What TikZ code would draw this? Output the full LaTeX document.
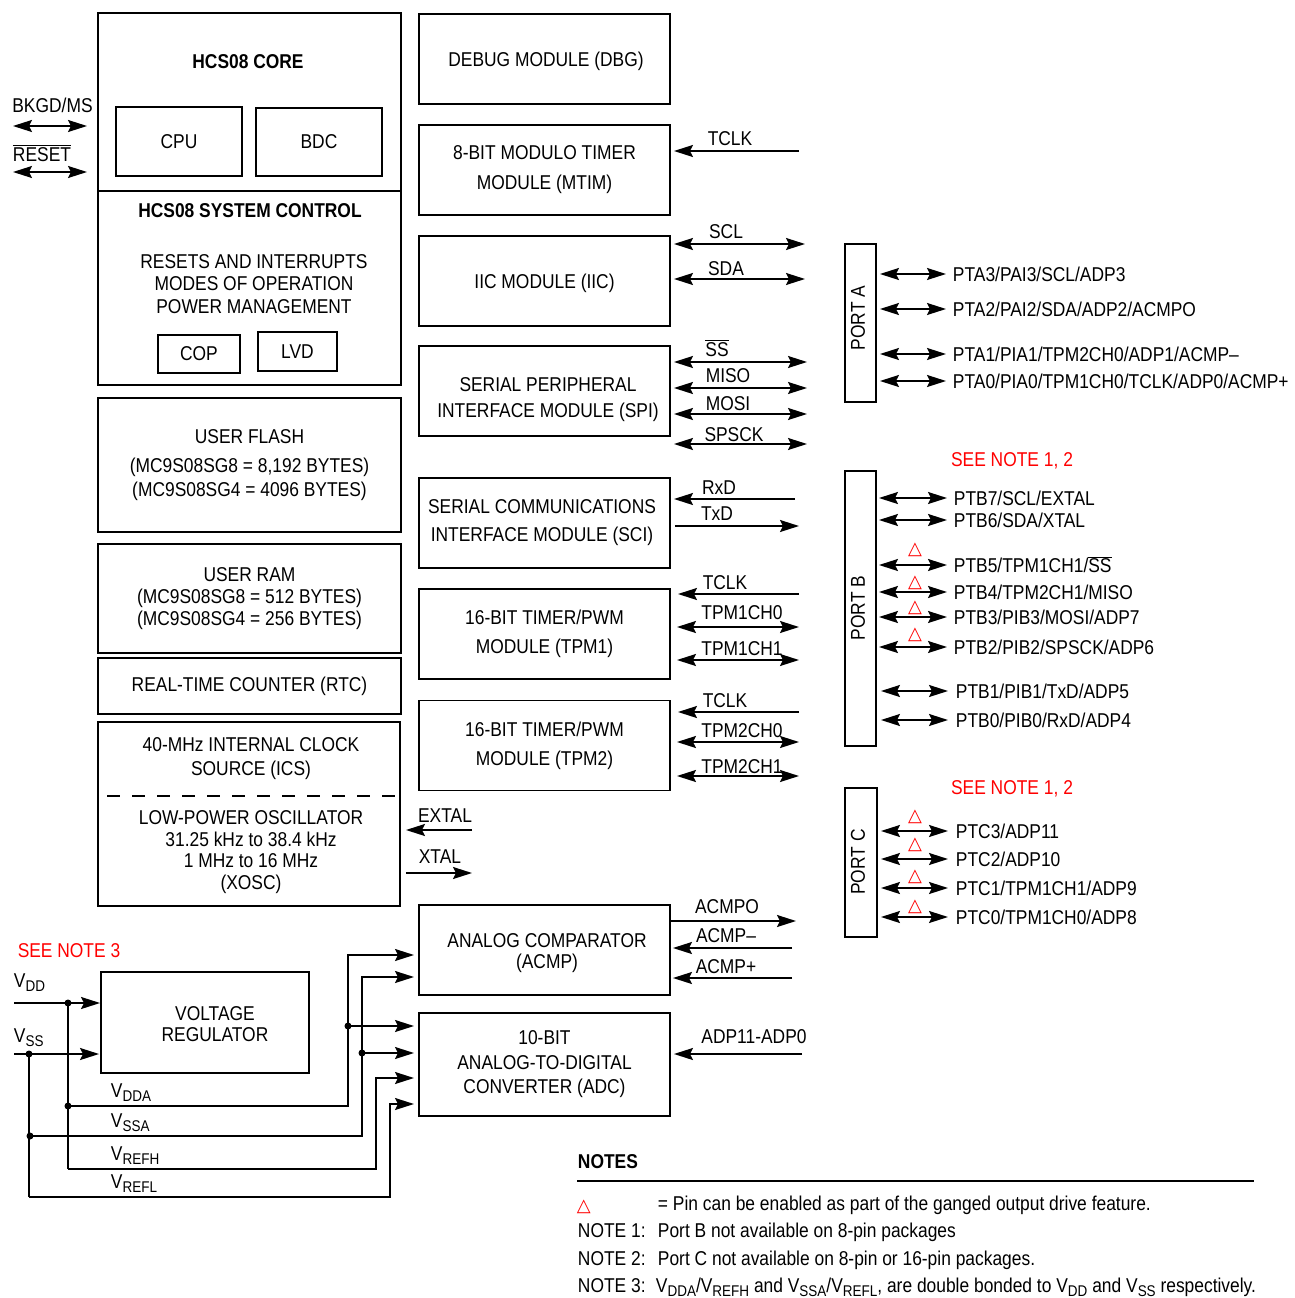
\documentclass[tikz,border=0pt]{standalone}
\usepackage{fontspec}
\setmainfont{Liberation Sans}[FakeStretch=0.87]
\newfontfamily\dejavu{DejaVu Sans}
\usetikzlibrary{arrows.meta}
\newcommand\fs{\fontsize{20}{24}\selectfont}
\newcommand\sbs[1]{\raisebox{-4.5pt}{\fontsize{15.5}{15.5}\selectfont #1}}
\newcommand\ovl[1]{$\overline{\mbox{#1}}$}
\newcommand\tri{{\dejavu\color{red}\fontsize{18}{18}\selectfont △}}
\begin{document}
\begin{tikzpicture}[x=1pt,y=-1pt, font=\fs, line width=1.9pt,
 box/.style={draw, line width=1.9pt, inner sep=0pt, align=center},
 lbl/.style={inner sep=0pt, align=center},
 bl/.style={inner sep=0pt, anchor=base},
 bw/.style={inner sep=0pt, anchor=base west},
 pinl/.style={inner sep=0pt, anchor=west, text height=14.3pt, text depth=0pt},
 onearr/.style={-{Stealth[length=19pt,width=12pt,inset=3pt]}},
 twoarr/.style={{Stealth[length=19pt,width=12pt,inset=3pt]}-{Stealth[length=19pt,width=12pt,inset=3pt]}},
 redt/.style={text=red},
 dot/.style={circle, fill, inner sep=0pt, minimum size=7pt}]
\useasboundingbox (0,0) rectangle (1294,1298);

% ---------- HCS08 core ----------
\node[box, minimum width=303, minimum height=178] (core) at (249.5,102) {};
\node[box, minimum width=303, minimum height=194] (sysc) at (249.5,288) {};
\node[lbl, font=\fs\bfseries] (coreT) at (248,62) {HCS08 CORE};
\node[box, minimum width=126, minimum height=69] (cpu) at (179,141.5) {CPU};
\node[box, minimum width=126, minimum height=68] (bdc) at (319,142) {BDC};
\node[lbl, font=\fs\bfseries] (syscT) at (250,211) {HCS08 SYSTEM CONTROL};
\node[lbl, font=\fontsize{20}{22.5}\selectfont] (syscL) at (254,284) {RESETS AND INTERRUPTS\\MODES OF OPERATION\\POWER MANAGEMENT};
\node[box, minimum width=82, minimum height=38] (cop) at (199,354) {COP};
\node[box, minimum width=79, minimum height=39] (lvd) at (297.5,351.5) {LVD};

\node[bl] (bkgdT) at (52.5,112) {BKGD/MS};
\coordinate (bkgdA) at (13,126); \coordinate (bkgdB) at (87,126);
\draw[twoarr] (bkgdA) -- (bkgdB);
\node[bl] (rstT) at (42,161) {\ovl{RESET}};
\coordinate (rstA) at (13,172); \coordinate (rstB) at (87,172);
\draw[twoarr] (rstA) -- (rstB);

% ---------- memories ----------
\node[box, minimum width=303, minimum height=134] (flash) at (249.5,465) {USER FLASH\\[5pt](MC9S08SG8 = 8,192 BYTES)\\(MC9S08SG4 = 4096 BYTES)};
\node[box, minimum width=303, minimum height=109, font=\fontsize{20}{22}\selectfont] (ram) at (249.5,598.5) {USER RAM\\(MC9S08SG8 = 512 BYTES)\\(MC9S08SG4 = 256 BYTES)};
\node[box, minimum width=303, minimum height=56] (rtc) at (249.5,686) {REAL-TIME COUNTER (RTC)};
\node[box, minimum width=302, minimum height=184] (ics) at (249,814) {};
\node[lbl] (icsT) at (251,759) {40-MHz INTERNAL CLOCK\\SOURCE (ICS)};
\coordinate (icsD1) at (107,796); \coordinate (icsD2) at (396,796);
\draw[dash pattern=on 13pt off 12pt] (icsD1) -- (icsD2);
\node[lbl, font=\fontsize{20}{21.7}\selectfont] (xoscT) at (251,852) {LOW-POWER OSCILLATOR\\31.25 kHz to 38.4 kHz\\1 MHz to 16 MHz\\(XOSC)};

\coordinate (extalE) at (472,830);
\draw[onearr, shorten >=5pt] (extalE) -- (extalE -| ics.east);
\node[bl] (extalT) at (445,822) {EXTAL};
\coordinate (xtalE) at (472,873);
\draw[onearr, shorten <=5pt] (xtalE -| ics.east) -- (xtalE);
\node[bl] (xtalT) at (440,863) {XTAL};

% ---------- peripheral modules ----------
\node[box, minimum width=251, minimum height=90] (dbg) at (544.5,59) {};
\node[lbl] (dbgT) at (546,61) {DEBUG MODULE (DBG)};
\node[box, minimum width=251, minimum height=90, font=\fontsize{20}{30}\selectfont] (mtim) at (544.5,170) {8-BIT MODULO TIMER\\MODULE (MTIM)};
\node[box, minimum width=251, minimum height=90] (iic) at (544.5,281) {};
\node[lbl] (iicT) at (544.5,283) {IIC MODULE (IIC)};
\node[box, minimum width=251, minimum height=90] (spi) at (544.5,391) {};
\node[lbl, font=\fontsize{20}{26}\selectfont] (spiT) at (548,400) {SERIAL PERIPHERAL\\INTERFACE MODULE (SPI)};
\node[box, minimum width=251, minimum height=90] (sci) at (544.5,523) {};
\node[lbl, font=\fontsize{20}{28}\selectfont] (sciT) at (542,523) {SERIAL COMMUNICATIONS\\INTERFACE MODULE (SCI)};
\node[box, minimum width=251, minimum height=90, font=\fontsize{20}{29}\selectfont] (tpma) at (544.5,634) {16-BIT TIMER/PWM\\MODULE (TPM1)};
\node[box, minimum width=251, minimum height=90, font=\fontsize{20}{29}\selectfont] (tpmb) at (544.5,745.5) {16-BIT TIMER/PWM\\MODULE (TPM2)};
\node[box, minimum width=251, minimum height=90] (acmp) at (544.5,950) {};
\node[lbl, font=\fontsize{20}{21}\selectfont] (acmpT) at (547,953) {ANALOG COMPARATOR\\(ACMP)};
\node[box, minimum width=251, minimum height=103, font=\fontsize{20}{24.5}\selectfont] (adc) at (544.5,1064.5) {10-BIT\\ANALOG-TO-DIGITAL\\CONVERTER (ADC)};

% MTIM
\coordinate (mtimC) at (799,151);
\draw[onearr, shorten >=3pt] (mtimC) -- (mtimC -| mtim.east);
\node[bl] (mtimCT) at (730,145) {TCLK};
% IIC
\coordinate (sclE) at (805,244);
\draw[twoarr, shorten <=3pt] (sclE -| iic.east) -- (sclE);
\node[bl] (sclT) at (726,238) {SCL};
\coordinate (sdaE) at (805,279);
\draw[twoarr, shorten <=3pt] (sdaE -| iic.east) -- (sdaE);
\node[bl] (sdaT) at (726,275) {SDA};
% SPI
\coordinate (ssE) at (807,362);
\draw[twoarr, shorten <=3pt] (ssE -| spi.east) -- (ssE);
\node[bl] (ssT) at (717,356) {\ovl{SS}};
\coordinate (misoE) at (807,388);
\draw[twoarr, shorten <=3pt] (misoE -| spi.east) -- (misoE);
\node[bl] (misoT) at (728,382) {MISO};
\coordinate (mosiE) at (807,414);
\draw[twoarr, shorten <=3pt] (mosiE -| spi.east) -- (mosiE);
\node[bl] (mosiT) at (728,410) {MOSI};
\coordinate (sckE) at (807,444);
\draw[twoarr, shorten <=3pt] (sckE -| spi.east) -- (sckE);
\node[bl] (sckT) at (734,441) {SPSCK};
% SCI
\coordinate (rxdE) at (795,499);
\draw[onearr, shorten >=3pt] (rxdE) -- (rxdE -| sci.east);
\node[bl] (rxdT) at (719,494) {RxD};
\coordinate (txdE) at (799,526);
\draw[onearr, shorten <=4pt] (txdE -| sci.east) -- (txdE);
\node[bl] (txdT) at (717,520) {TxD};
% TPM1
\coordinate (tclkaE) at (799,594);
\draw[onearr, shorten >=7pt] (tclkaE) -- (tclkaE -| tpma.east);
\node[bl] (tclkaT) at (725,589) {TCLK};
\coordinate (tachaE) at (799,627);
\draw[twoarr, shorten <=6pt] (tachaE -| tpma.east) -- (tachaE);
\node[bl] (tachaT) at (742,619) {TPM1CH0};
\coordinate (tachbE) at (799,660);
\draw[twoarr, shorten <=6pt] (tachbE -| tpma.east) -- (tachbE);
\node[bl] (tachbT) at (742,655) {TPM1CH1};
% TPM2
\coordinate (tclkbE) at (799,712);
\draw[onearr, shorten >=7pt] (tclkbE) -- (tclkbE -| tpmb.east);
\node[bl] (tclkbT) at (725,707) {TCLK};
\coordinate (tbchaE) at (799,742);
\draw[twoarr, shorten <=6pt] (tbchaE -| tpmb.east) -- (tbchaE);
\node[bl] (tbchaT) at (742,737) {TPM2CH0};
\coordinate (tbchbE) at (799,776);
\draw[twoarr, shorten <=6pt] (tbchbE -| tpmb.east) -- (tbchbE);
\node[bl] (tbchbT) at (742,773) {TPM2CH1};
% ACMP
\coordinate (acmpoE) at (796,921);
\draw[onearr] (acmpoE -| acmp.east) -- (acmpoE);
\node[bl] (acmpoT) at (727,913) {ACMPO};
\coordinate (acmpmE) at (792,948);
\draw[onearr, shorten >=2pt] (acmpmE) -- (acmpmE -| acmp.east);
\node[bl] (acmpmT) at (726,942) {ACMP–};
\coordinate (acmppE) at (792,978);
\draw[onearr, shorten >=2pt] (acmppE) -- (acmppE -| acmp.east);
\node[bl] (acmppT) at (726,973) {ACMP+};
% ADC
\coordinate (adpE) at (802,1054);
\draw[onearr, shorten >=3pt] (adpE) -- (adpE -| adc.east);
\node[bl] (adpT) at (754,1043) {ADP11-ADP0};

% ---------- ports ----------
\node[box, minimum width=31, minimum height=158] (pA) at (860.5,323) {};
\node[lbl, rotate=90] (pAT) at (858,318) {PORT A};
\node[box, minimum width=31, minimum height=275] (pB) at (860.5,608.5) {};
\node[lbl, rotate=90] (pBT) at (858,608) {PORT B};
\node[box, minimum width=32, minimum height=149] (pC) at (861,862.5) {};
\node[lbl, rotate=90] (pCT) at (858,862) {PORT C};

\node[pinl] (pa3) at (952,274) {PTA3/PAI3/SCL/ADP3};
\node[pinl] (pa2) at (952,309) {PTA2/PAI2/SDA/ADP2/ACMPO};
\node[pinl] (pa1) at (952,354) {PTA1/PIA1/TPM2CH0/ADP1/ACMP–};
\node[pinl] (pa0) at (952,381) {PTA0/PIA0/TPM1CH0/TCLK/ADP0/ACMP+};
\foreach \p in {pa3,pa2,pa1,pa0}
  \draw[twoarr, shorten <=3pt, shorten >=6pt] (pA.east |- \p.west) -- (\p.west);

\node[redt, bl] (noteB) at (1012,466) {SEE NOTE 1, 2};
\node[pinl] (pb7) at (953,498) {PTB7/SCL/EXTAL};
\node[pinl] (pb6) at (953,520) {PTB6/SDA/XTAL};
\node[pinl] (pb5) at (953,565) {PTB5/TPM1CH1/\ovl{SS}};
\node[pinl] (pb4) at (953,592) {PTB4/TPM2CH1/MISO};
\node[pinl] (pb3) at (953,617) {PTB3/PIB3/MOSI/ADP7};
\node[pinl] (pb2) at (953,647) {PTB2/PIB2/SPSCK/ADP6};
\node[pinl] (pb1) at (955,691) {PTB1/PIB1/TxD/ADP5};
\node[pinl] (pb0) at (955,720) {PTB0/PIB0/RxD/ADP4};
\foreach \p in {pb7,pb6,pb5,pb4,pb3,pb2}
  \draw[twoarr, shorten <=2pt, shorten >=6pt] (pB.east |- \p.west) -- (\p.west);
\foreach \p in {pb1,pb0}
  \draw[twoarr, shorten <=4pt, shorten >=7pt] (pB.east |- \p.west) -- (\p.west);
\node[lbl] (tb5) at (915,550) {\tri};
\node[lbl] (tb4) at (915,583) {\tri};
\node[lbl] (tb3) at (915,608) {\tri};
\node[lbl] (tb2) at (915,635) {\tri};

\node[redt, bl] (noteC) at (1012,794) {SEE NOTE 1, 2};
\node[pinl] (pc3) at (955,831) {PTC3/ADP11};
\node[pinl] (pc2) at (955,859) {PTC2/ADP10};
\node[pinl] (pc1) at (955,888) {PTC1/TPM1CH1/ADP9};
\node[pinl] (pc0) at (955,917) {PTC0/TPM1CH0/ADP8};
\foreach \p in {pc3,pc2,pc1,pc0}
  \draw[twoarr, shorten <=3pt, shorten >=7pt] (pC.east |- \p.west) -- (\p.west);
\node[lbl] (tc3) at (915,817) {\tri};
\node[lbl] (tc2) at (915,845) {\tri};
\node[lbl] (tc1) at (915,877) {\tri};
\node[lbl] (tc0) at (915,907) {\tri};

% ---------- power ----------
\node[box, minimum width=208, minimum height=101] (vreg) at (205,1022.5) {};
\node[lbl, font=\fontsize{20}{21}\selectfont] (vregT) at (215,1024.5) {VOLTAGE\\REGULATOR};
\node[redt, bl] (note3) at (69,957) {SEE NOTE 3};
\node[bw] (vddT) at (13,987) {V\sbs{DD}};
\node[bw] (vssT) at (13,1042) {V\sbs{SS}};
\coordinate (vddS) at (14,1003);
\coordinate (vssS) at (14,1054);
\node[dot] (jdd) at (68,1003) {};
\node[dot] (jss) at (29,1054) {};
\draw[onearr] (vddS) -- (vddS -| vreg.west);
\draw[onearr, shorten >=1pt] (vssS) -- (vssS -| vreg.west);
\node[dot] (jdda) at (68,1106) {};
\node[dot] (jssa) at (30,1136) {};
\coordinate (vrefhC) at (68,1169);
\coordinate (vreflC) at (29,1197);
\draw (jdd.center) -- (vrefhC);
\draw (jss.center) -- (vreflC);
\node[dot] (jddaB) at (348,1026) {};
\node[dot] (jssaB) at (362,1053) {};
\coordinate (busC) at (376,1078);
\coordinate (busD) at (390,1104);
\coordinate (acmpIa) at (419,955);
\coordinate (acmpIb) at (419,977);
\coordinate (adcIa) at (419,1026);
\coordinate (adcIb) at (419,1053);
\coordinate (adcIc) at (419,1078);
\coordinate (adcId) at (419,1104);
\draw[onearr, shorten >=5pt] (jdda.center) -| (jddaB.center) |- (acmpIa);
\draw[onearr, shorten >=5pt] (jddaB.center) -- (adcIa);
\draw[onearr, shorten >=5pt] (jssa.center) -| (jssaB.center) |- (acmpIb);
\draw[onearr, shorten >=5pt] (jssaB.center) -- (adcIb);
\draw[onearr, shorten >=5pt] (vrefhC) -| (busC) -- (adcIc);
\draw[onearr, shorten >=5pt] (vreflC) -| (busD) -- (adcId);
\node[bw] (vddaT) at (110,1097) {V\sbs{DDA}};
\node[bw] (vssaT) at (110,1127) {V\sbs{SSA}};
\node[bw] (vrefhT) at (110,1160) {V\sbs{REFH}};
\node[bw] (vreflT) at (110,1188) {V\sbs{REFL}};

% ---------- notes ----------
\node[bw, font=\fs\bfseries] (notesT) at (577,1168) {NOTES};
\coordinate (nlA) at (577,1181); \coordinate (nlB) at (1254,1181);
\draw (nlA) -- (nlB);
\node[bw] (ntri) at (576,1211) {\tri};
\node[bw] (n0) at (657,1210) {= Pin can be enabled as part of the ganged output drive feature.};
\node[bw] (n1) at (577,1237) {NOTE 1:};
\node[bw] (n1b) at (657,1237) {Port B not available on 8-pin packages};
\node[bw] (n2) at (577,1265) {NOTE 2:};
\node[bw] (n2b) at (657,1265) {Port C not available on 8-pin or 16-pin packages.};
\node[bw] (n3) at (577,1292) {NOTE 3:};
\node[bw] (n3b) at (655,1292) {V\sbs{DDA}/V\sbs{REFH} and V\sbs{SSA}/V\sbs{REFL}, are double bonded to V\sbs{DD} and V\sbs{SS} respectively.};
\end{tikzpicture}
\end{document}
